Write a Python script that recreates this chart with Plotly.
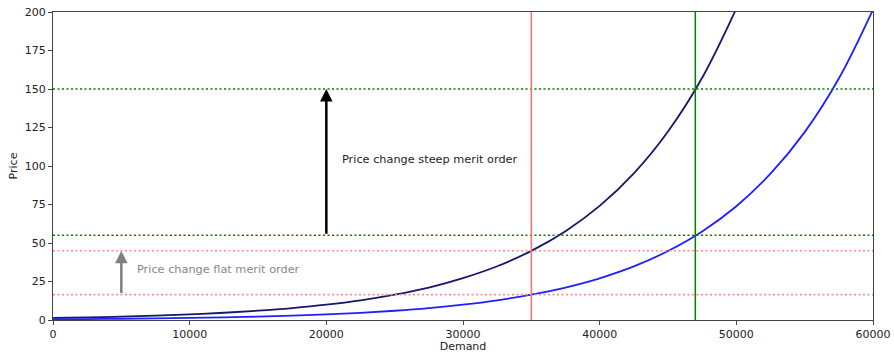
import plotly.graph_objects as go

demand = [0, 2500, 5000, 7500, 10000, 12500, 15000, 17500, 20000, 22500, 25000,
          27500, 30000, 32500, 35000, 37500, 40000, 42500, 45000, 47500, 50000,
          52500, 55000, 57500, 60000]
price_steep = [1.34, 1.72, 2.21, 2.84, 3.65, 4.70, 6.04, 7.76, 9.97, 12.8, 16.5,
               21.1, 27.2, 34.9, 44.9, 57.7, 74.1, 95.2, 122.4, 157.3, 202.2]
price_flat = [0.49, 0.63, 0.81, 1.04, 1.34, 1.72, 2.21, 2.84, 3.64, 4.68, 6.02,
              7.73, 9.94, 12.77, 16.4, 21.1, 27.1, 34.8, 44.8, 57.5, 73.9,
              95.0, 122.0, 156.8, 201.5]

demand_low, demand_high = 35000, 47000
steep_low, steep_high = 45, 150
flat_low, flat_high = 16.5, 55
x_ticks = [0, 10000, 20000, 30000, 40000, 50000, 60000]
y_ticks = [0, 25, 50, 75, 100, 125, 150, 175, 200]

fig = go.Figure()
fig.add_trace(go.Scatter(x=demand[:len(price_steep)], y=price_steep, mode="lines",
                         line=dict(color="#16166e", width=1.8, shape="spline"),
                         showlegend=False))
fig.add_trace(go.Scatter(x=demand, y=price_flat, mode="lines",
                         line=dict(color="#1f1fff", width=1.8, shape="spline"),
                         showlegend=False))

# horizontal dotted lines
for yv, col in [(steep_high, "#008000"), (flat_high, "#008000"),
                (steep_low, "#ff8c8c"), (flat_low, "#ff8c8c")]:
    fig.add_shape(type="line", xref="paper", x0=0, x1=1, yref="y", y0=yv, y1=yv,
                  line=dict(color=col, width=1.6, dash="2px,2.5px"))
# vertical lines
fig.add_shape(type="line", xref="x", x0=demand_low, x1=demand_low, yref="paper", y0=0, y1=1,
              line=dict(color="#ff7070", width=1.5))
fig.add_shape(type="line", xref="x", x0=demand_high, x1=demand_high, yref="paper", y0=0, y1=1,
              line=dict(color="#008000", width=1.5))

# arrows
fig.add_annotation(x=20000, y=steep_high, ax=20000, ay=flat_high, xref="x", yref="y",
                   axref="x", ayref="y", showarrow=True, arrowhead=2, arrowsize=1,
                   arrowwidth=2.5, arrowcolor="black", text="")
fig.add_annotation(x=5000, y=steep_low, ax=5000, ay=flat_low, xref="x", yref="y",
                   axref="x", ayref="y", showarrow=True, arrowhead=2, arrowsize=1,
                   arrowwidth=2.5, arrowcolor="#808080", text="")
fig.add_annotation(x=21000, y=104, xref="x", yref="y", text="Price change steep merit order",
                   showarrow=False, xanchor="left", yanchor="middle",
                   font=dict(size=11.3, color="#222222"))
fig.add_annotation(x=6000, y=33, xref="x", yref="y", text="Price change flat merit order",
                   showarrow=False, xanchor="left", yanchor="middle",
                   font=dict(size=11.3, color="#888888"))

fig.update_layout(
    width=894, height=353,
    margin=dict(l=53, r=21, t=12, b=33, autoexpand=False),
    plot_bgcolor="white", paper_bgcolor="white",
    font=dict(family="DejaVu Sans", size=11, color="#222222"),
)
fig.update_xaxes(range=[0, 60000], tickvals=x_ticks, ticktext=[str(v) for v in x_ticks],
                 showgrid=False, zeroline=False, ticks="outside", ticklen=4,
                 tickcolor="#444", showline=True, linecolor="#444", linewidth=1.2, mirror=True,
                 automargin=False,
                 title=dict(text="Demand", standoff=2, font=dict(size=11)))
fig.update_yaxes(range=[0, 200], tickvals=y_ticks, showgrid=False, zeroline=False,
                 ticks="outside", ticklen=4, tickcolor="#444", showline=True,
                 linecolor="#444", linewidth=1.2, mirror=True, automargin=False,
                 title=dict(text="Price", standoff=4, font=dict(size=11)))

fig.write_html("out.html", config={"displayModeBar": False},
               post_script="document.body.style.margin='0';document.body.style.overflow='hidden';")
